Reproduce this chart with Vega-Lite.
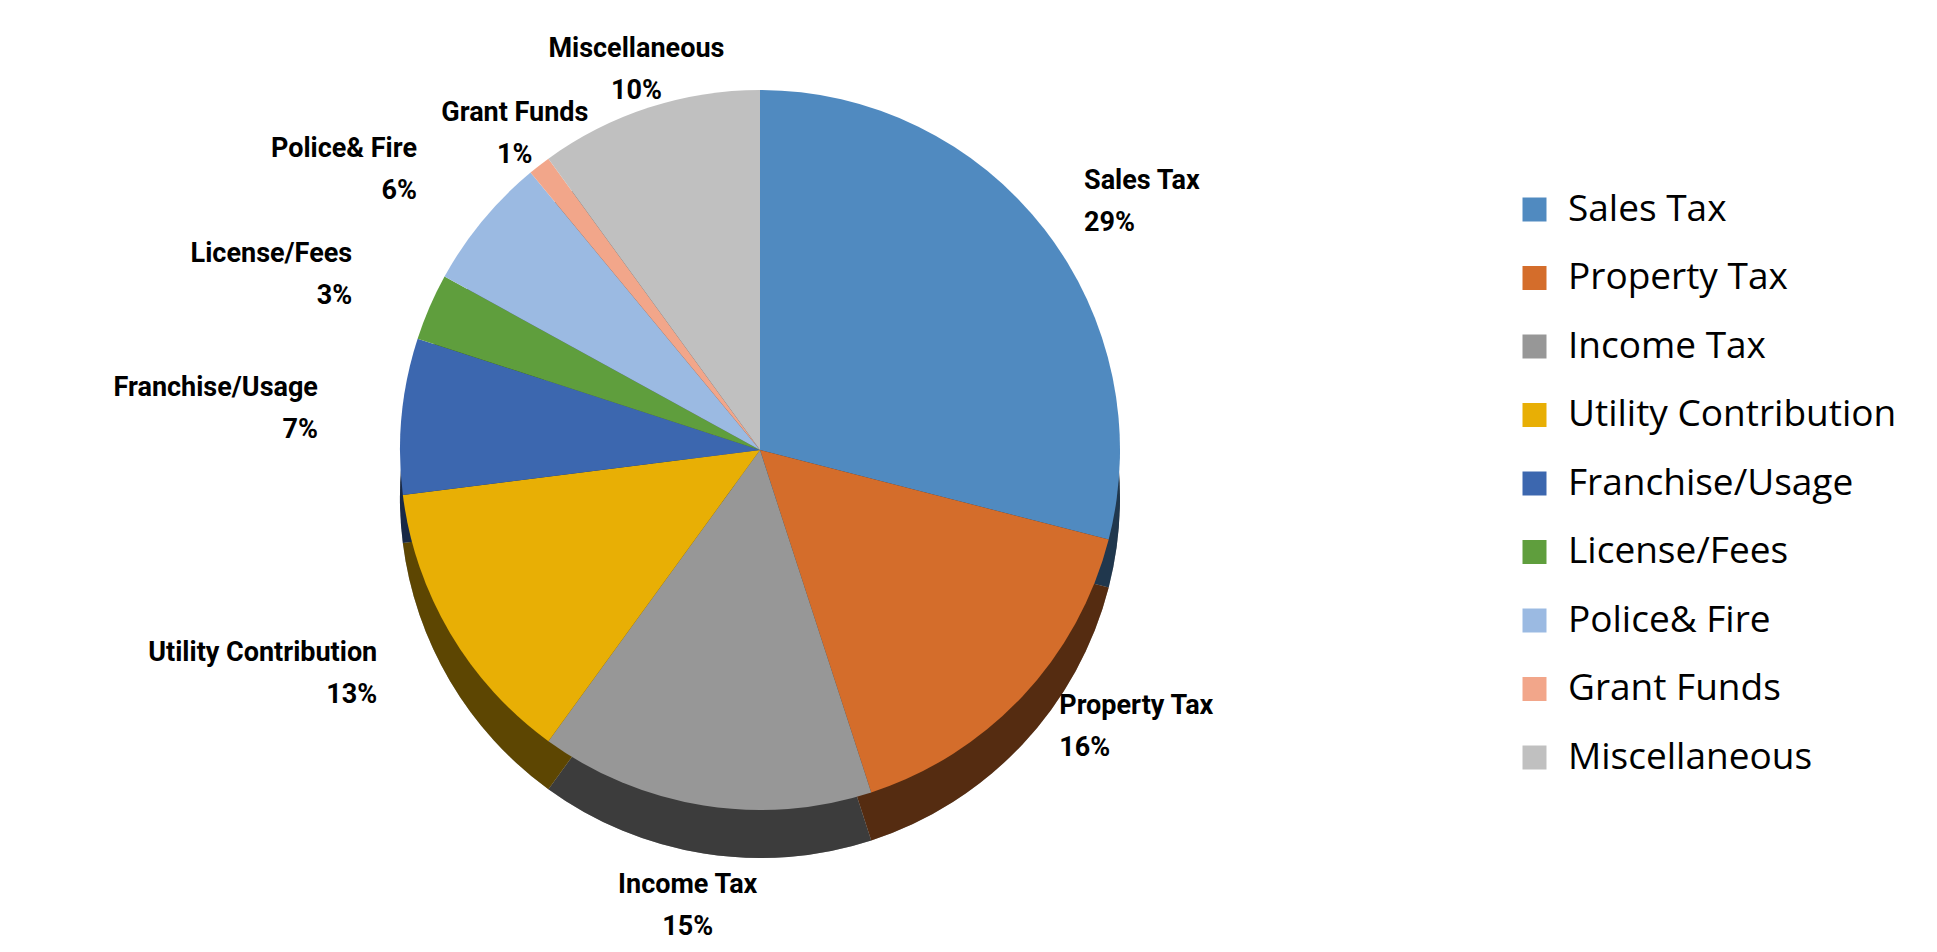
{
  "$schema": "https://vega.github.io/schema/vega-lite/v6.json",
  "width": 1520,
  "height": 900,
  "autosize": "none",
  "padding": {"left": 0, "top": 0, "right": 417, "bottom": 52},
  "background": "white",
  "config": {
    "view": {"stroke": null},
    "legend": {
      "orient": "none",
      "legendX": 1516,
      "legendY": 191,
      "padding": 0,
      "labelFont": "Open Sans",
      "labelFontSize": 37,
      "labelColor": "#000000",
      "symbolType": "square",
      "symbolSize": 576,
      "symbolStrokeWidth": 0,
      "symbolOpacity": 1,
      "rowPadding": 30.5,
      "labelOffset": 15,
      "labelLimit": 0
    },
    "text": {"font": "Roboto", "fontWeight": "bold", "fontSize": 27, "color": "#000000", "baseline": "middle"}
  },
  "data": {
    "values": [
      {"idx": 1, "name": "Sales Tax", "value": 0.29},
      {"idx": 2, "name": "Property Tax", "value": 0.16},
      {"idx": 3, "name": "Income Tax", "value": 0.15},
      {"idx": 4, "name": "Utility Contribution", "value": 0.13},
      {"idx": 5, "name": "Franchise/Usage", "value": 0.07},
      {"idx": 6, "name": "License/Fees", "value": 0.03},
      {"idx": 7, "name": "Police& Fire", "value": 0.06},
      {"idx": 8, "name": "Grant Funds", "value": 0.01},
      {"idx": 9, "name": "Miscellaneous", "value": 0.10}
    ]
  },
  "encoding": {
    "theta": {"field": "value", "type": "quantitative", "stack": true},
    "order": {"field": "idx", "type": "quantitative"}
  },
  "layer": [
    {
      "mark": {"type": "arc", "outerRadius": 360, "yOffset": 48, "fill": "#000000"}
    },
    {
      "mark": {"type": "arc", "outerRadius": 360, "yOffset": 48, "opacity": 0.4},
      "encoding": {
        "color": {"field": "name", "type": "nominal", "title": null,
          "scale": {"domain": ["Sales Tax", "Property Tax", "Income Tax", "Utility Contribution", "Franchise/Usage", "License/Fees", "Police& Fire", "Grant Funds", "Miscellaneous"],
                    "range": ["#508AC0", "#D46D2B", "#979797", "#E8AF05", "#3C67AF", "#5F9E3D", "#9BBAE2", "#F2A68A", "#C0C0C0"]}}
      }
    },
    {
      "mark": {"type": "arc", "outerRadius": 360},
      "encoding": {
        "color": {"field": "name", "type": "nominal", "title": null}
      }
    },
    {
      "mark": {"type": "text", "radius": 405, "align": "left", "dx": 4, "dy": -21},
      "encoding": {"text": {"condition": {"test": "indexof(['Sales Tax','Property Tax'], datum.name) >= 0", "field": "name"}, "value": ""}}
    },
    {
      "mark": {"type": "text", "radius": 405, "align": "left", "dx": 4, "dy": 21},
      "encoding": {"text": {"condition": {"test": "indexof(['Sales Tax','Property Tax'], datum.name) >= 0", "field": "value", "format": ".0%"}, "value": ""}}
    },
    {
      "mark": {"type": "text", "radius": 462, "align": "center", "dy": -21},
      "encoding": {"text": {"condition": {"test": "datum.name === 'Income Tax'", "field": "name"}, "value": ""}}
    },
    {
      "mark": {"type": "text", "radius": 462, "align": "center", "dy": 21},
      "encoding": {"text": {"condition": {"test": "datum.name === 'Income Tax'", "field": "value", "format": ".0%"}, "value": ""}}
    },
    {
      "mark": {"type": "text", "radius": 440, "align": "right", "dx": -4, "dy": -21},
      "encoding": {"text": {"condition": {"test": "indexof(['Utility Contribution','Franchise/Usage','License/Fees','Police& Fire'], datum.name) >= 0", "field": "name"}, "value": ""}}
    },
    {
      "mark": {"type": "text", "radius": 440, "align": "right", "dx": -4, "dy": 21},
      "encoding": {"text": {"condition": {"test": "indexof(['Utility Contribution','Franchise/Usage','License/Fees','Police& Fire'], datum.name) >= 0", "field": "value", "format": ".0%"}, "value": ""}}
    },
    {
      "mark": {"type": "text", "radius": 400, "align": "center", "dy": -21},
      "encoding": {"text": {"condition": {"test": "indexof(['Grant Funds','Miscellaneous'], datum.name) >= 0", "field": "name"}, "value": ""}}
    },
    {
      "mark": {"type": "text", "radius": 400, "align": "center", "dy": 21},
      "encoding": {"text": {"condition": {"test": "indexof(['Grant Funds','Miscellaneous'], datum.name) >= 0", "field": "value", "format": ".0%"}, "value": ""}}
    }
  ]
}
